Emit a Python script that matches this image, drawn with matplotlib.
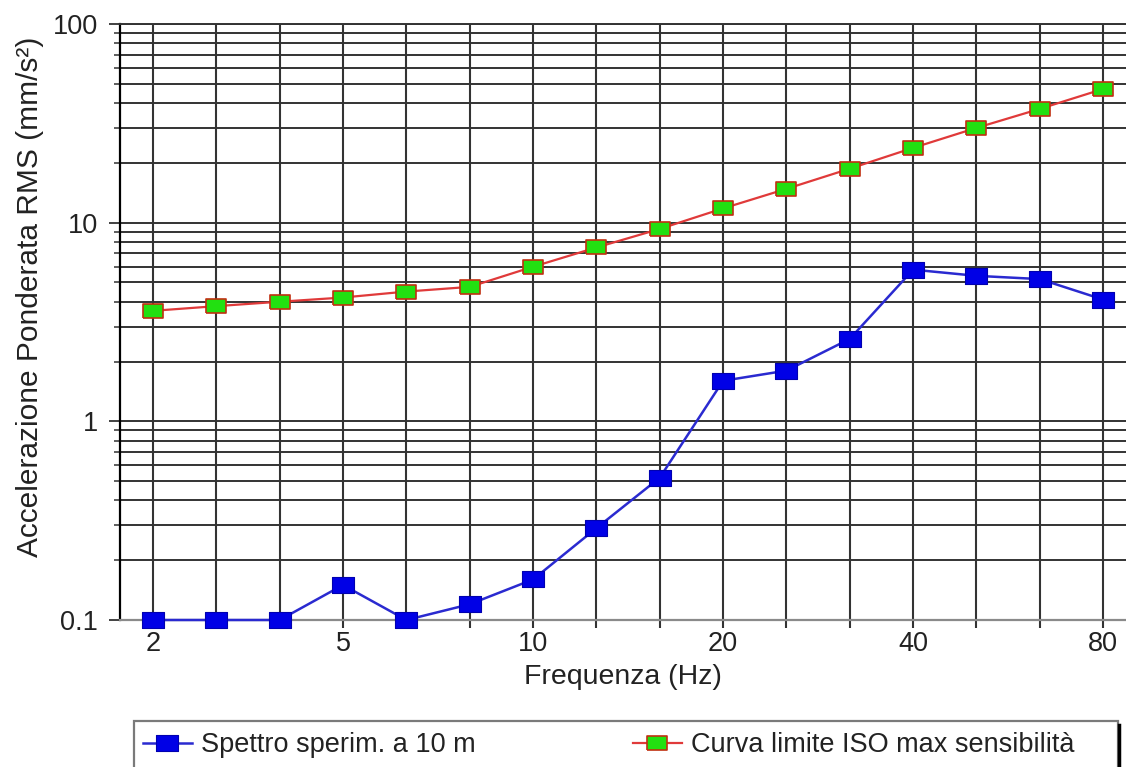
import matplotlib
matplotlib.use("Agg")
import matplotlib.pyplot as plt
from matplotlib.ticker import LogLocator, NullFormatter
from matplotlib.lines import Line2D
from matplotlib.patches import Rectangle

plt.rcParams['font.family'] = ['Liberation Sans', 'DejaVu Sans']

# ===== DATI =====
# bande di frequenza (etichette mostrate solo su alcune)
freq_labels = ["2", "", "", "5", "", "", "10", "", "", "20", "", "", "40", "", "", "80"]
spettro_10m = [0.1, 0.1, 0.1, 0.15, 0.1, 0.12, 0.16, 0.29, 0.52, 1.6, 1.8, 2.6, 5.8, 5.4, 5.2, 4.1]
curva_iso = [3.6, 3.8, 4.0, 4.2, 4.5, 4.75, 6.0, 7.5, 9.3, 11.8, 14.8, 18.7, 23.8, 30.0, 37.4, 47.1]

yticks = [0.1, 1, 10, 100]
ytick_labels = ["0.1", "1", "10", "100"]

W, H = 1126, 767
testo = "#222222"
griglia = "#333333"

# marker rettangolare (piu' largo che alto)
rett = [(-1.45, -1), (1.45, -1), (1.45, 1), (-1.45, 1), (-1.45, -1)]

x = list(range(len(freq_labels)))

fig = plt.figure(figsize=(W / 100, H / 100), dpi=100)
ax = fig.add_axes([120 / W, 1 - 620 / H, 1 - 120 / W, (620 - 24) / H])

ax.plot(x, spettro_10m, color="#2a2ad0", lw=1.8, marker=rett, ms=16.5, clip_on=False,
        mfc="#0000e6", mec="#0000b0", mew=0.8, label="Spettro sperim. a 10 m", zorder=5)
ax.plot(x, curva_iso, color="#e03a3a", lw=1.6, marker=rett, ms=14.5, clip_on=False,
        mfc="#22e011", mec="#c03010", mew=1.2, label="Curva limite ISO max sensibilità", zorder=5)

ax.set_yscale("log")
ax.set_ylim(0.1, 100)
ax.set_xlim(-0.52, 15.36)
ax.set_yticks(yticks)
ax.set_yticklabels(ytick_labels)
ax.yaxis.set_minor_locator(LogLocator(base=10, subs=range(2, 10)))
ax.yaxis.set_minor_formatter(NullFormatter())
ax.set_xticks(x)
ax.set_xticklabels(freq_labels)

ax.grid(True, which="both", axis="y", color=griglia, lw=1.4)
ax.grid(True, which="major", axis="x", color=griglia, lw=1.5)
ax.set_axisbelow(True)

ax.tick_params(axis="y", which="major", length=8, width=1.3, pad=8,
               labelsize=19.5, color=griglia, labelcolor=testo)
ax.tick_params(axis="y", which="minor", length=4, width=1.1, color=griglia)
ax.tick_params(axis="x", which="major", length=6, width=1.5, pad=2,
               labelsize=19.5, color=griglia, labelcolor=testo)

ax.spines["right"].set_visible(False)
ax.spines["top"].set_color(griglia)
ax.spines["top"].set_linewidth(1.4)
ax.spines["left"].set_color("black")
ax.spines["left"].set_linewidth(1.6)
ax.spines["bottom"].set_color("#8a8a8a")
ax.spines["bottom"].set_linewidth(1.6)

ax.set_xlabel("Frequenza (Hz)", fontsize=20.5, color=testo)
ax.xaxis.set_label_coords(0.5, (620 - 677) / 596)
ax.xaxis.label.set_va("center")

ax.set_ylabel("Accelerazione Ponderata RMS (mm/s²)", fontsize=21.5, color=testo)
ax.yaxis.set_label_coords((30 - 120) / 1006, (620 - 297) / 596)
ax.yaxis.label.set_va("center")

# ===== LEGENDA =====
cornice = Rectangle((134 / W, -0.05), (1118 - 134) / W, (767 - 721) / H + 0.05,
                    transform=fig.transFigure, facecolor="white", edgecolor="#7a7a7a", lw=1.6)
fig.add_artist(cornice)
fig.add_artist(Line2D([1119 / W, 1119 / W], [0, 1 - 725 / H], transform=fig.transFigure,
                      color="black", lw=2.5))

leg = fig.legend(loc="upper left", bbox_to_anchor=(143 / W, 1 - 732 / H),
                 ncol=2, fontsize=19.5, frameon=False, handlelength=1.8,
                 handletextpad=0.35, columnspacing=5.8, borderpad=0, borderaxespad=0)
for t in leg.get_texts():
    t.set_color(testo)

fig.savefig("out.png", dpi=100)
